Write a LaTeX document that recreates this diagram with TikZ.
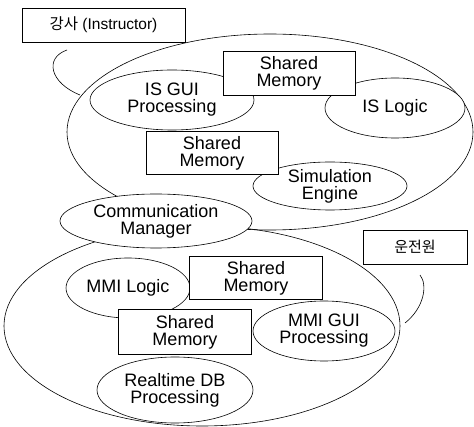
\documentclass[tikz,border=0pt]{standalone}
\usepackage{fontspec}
\setmainfont{Liberation Sans}
\newfontfamily\krfont{Noto Sans CJK KR}
\usetikzlibrary{shapes}
\tikzstyle{group} = [draw, ellipse, inner sep=0pt]
\tikzstyle{module} = [draw, fill=white, ellipse, inner sep=0pt, align=center]
\tikzstyle{block} = [draw, fill=white, rectangle, 
    minimum height=44pt, minimum width=132pt, align=center]
\tikzstyle{user} = [draw, fill=white, rectangle, minimum height=34pt]

\begin{document}
\begin{tikzpicture}[x=1pt, y=-1pt, line width=0.6pt, font=\fontsize{18}{17}\selectfont]
\useasboundingbox (0,0) rectangle (474,427);

    % We start with the two subsystems
    \node [group, minimum width=406pt, minimum height=196pt] (is_side) at (270,132) {};
    \node [group, minimum width=396pt, minimum height=200pt] (mmi_side) at (202,326) {};
    \node [module, minimum width=192pt, minimum height=54pt] (comm) at (156,221) {Communication\\Manager};

    % instructor station
    \node [module, minimum width=164pt, minimum height=60pt] (is_gui) at (172,100) {IS GUI\\Processing};
    \node [module, minimum width=140pt, minimum height=60pt] (is_logic) at (395,108) {IS Logic};
    \node [module, minimum width=154pt, minimum height=48pt] (sim) at (330,186) {Simulation\\Engine};
    \node [block] (is_shm_a) at (289,73) {Shared\\Memory};
    \node [block, minimum height=43pt] (is_shm_b) at (212,153) {Shared\\Memory};

    % operator side
    \node [module, minimum width=124pt, minimum height=60pt] (mmi_logic) at (128,288) {MMI Logic};
    \node [module, minimum width=142pt, minimum height=60pt] (mmi_gui) at (324,331) {MMI GUI\\Processing};
    \node [module, minimum width=156pt, minimum height=66pt] (rtdb) at (175,390) {Realtime DB\\Processing};
    \node [block, minimum height=43pt, minimum width=133pt] (mmi_shm_a) at (256,278) {Shared\\Memory};
    \node [block, minimum height=45pt, minimum width=133pt] (mmi_shm_b) at (185,332) {Shared\\Memory};

    % the users
    \node [user, minimum width=163pt, font=\fontsize{15.5}{17}\selectfont] (instructor) at (103.5,25) {{\krfont 강사} (Instructor)};
    \node [user, minimum width=104pt, font=\fontsize{15}{17}\selectfont] (operator) at (415,247) {\krfont 운전원};

    % brackets from each user to its side
    \coordinate (ins_a) at (67,50);
    \coordinate (ins_b) at (80,95);
    \coordinate (op_a) at (420,275);
    \coordinate (op_b) at (405,323);
    \draw (ins_a) .. controls (44,58) and (50,83) .. (ins_b);
    \draw (op_a) .. controls (428,285) and (424,308) .. (op_b);

\end{tikzpicture}
\end{document}
